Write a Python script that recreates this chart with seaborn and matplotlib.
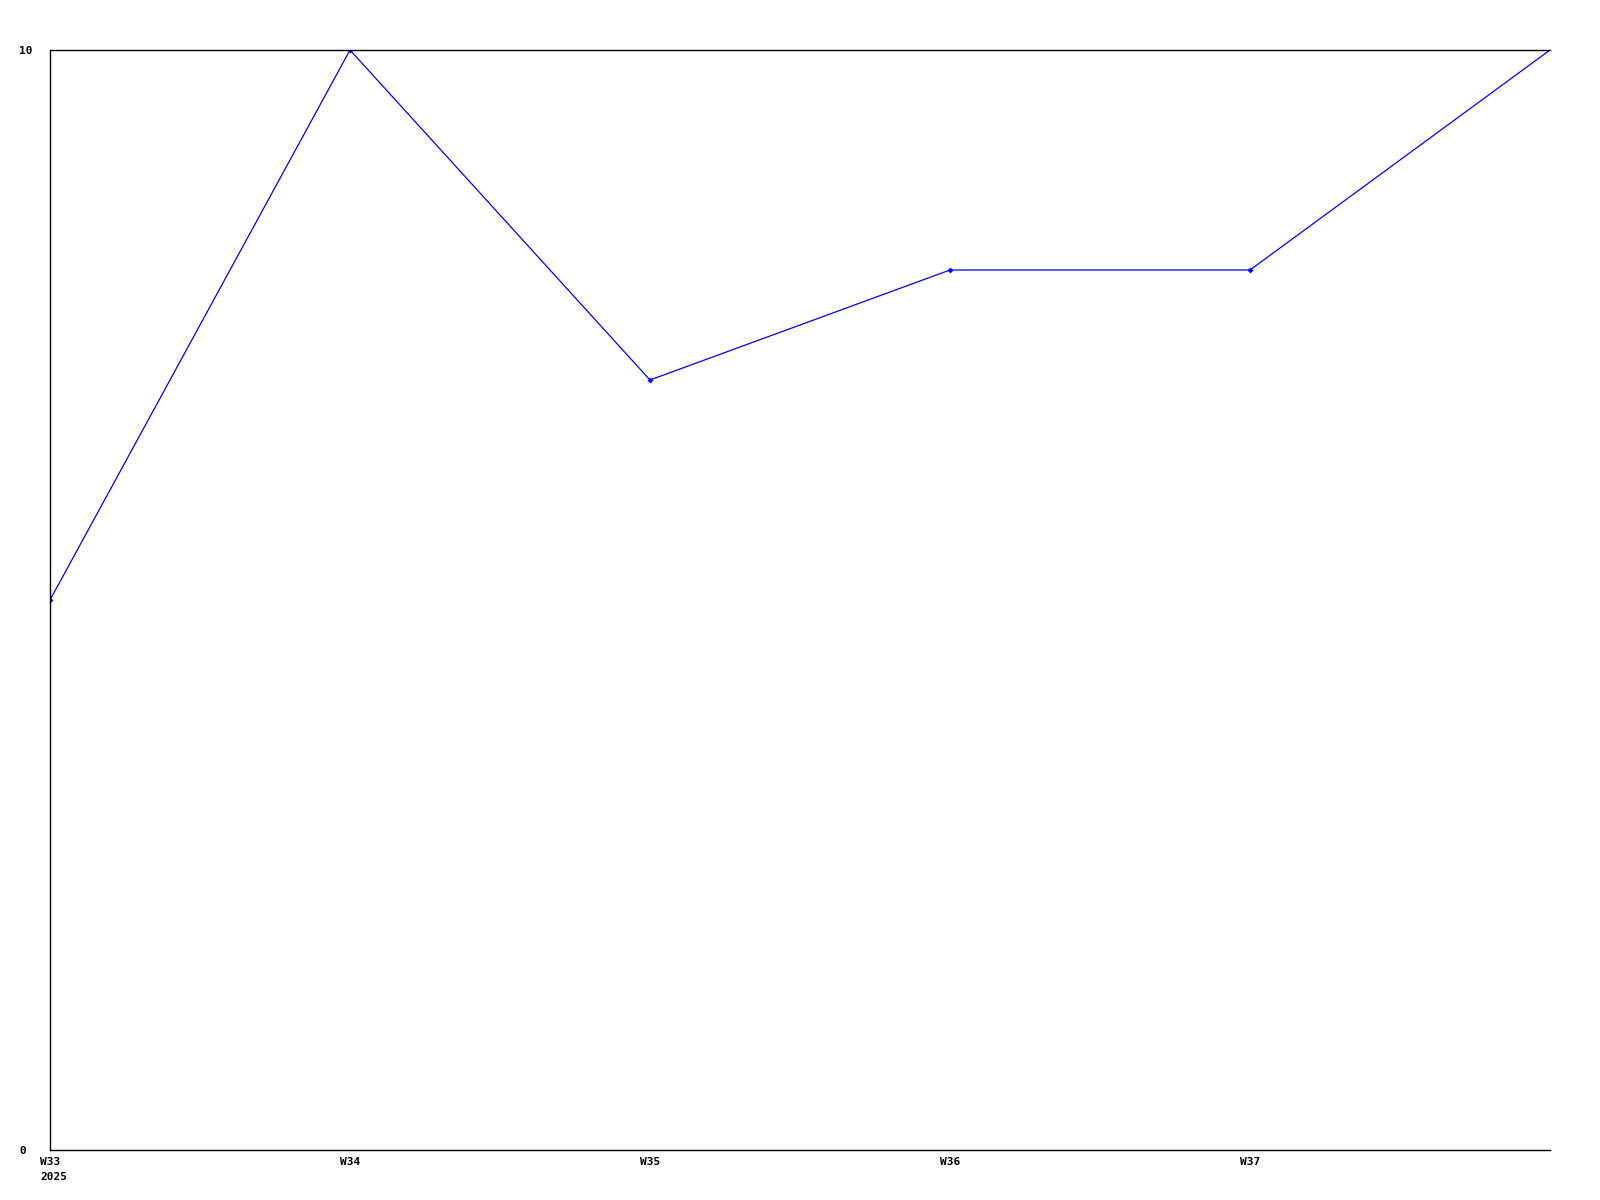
import matplotlib
matplotlib.use("Agg")
import matplotlib.pyplot as plt
import seaborn as sns
import pandas as pd
import matplotlib.transforms as mtransforms

weeks = [33, 34, 35, 36, 37, 38]
values = [5, 10, 7, 8, 8, 10]
tick_weeks = [33, 34, 35, 36, 37]
tick_labels = ["W33", "W34", "W35", "W36", "W37"]
year_label = "2025"

sns.set_style("white")
plt.rcParams['font.family'] = ['DejaVu Sans Mono']
plt.rcParams['text.color'] = 'black'
plt.rcParams['xtick.color'] = 'black'
plt.rcParams['ytick.color'] = 'black'

df = pd.DataFrame({"week": weeks, "value": values})

fig = plt.figure(figsize=(16, 12), dpi=100)
ax = fig.add_axes([50/1600, 50/1200, 1500/1600, 1100/1200])

sns.lineplot(data=df, x="week", y="value", ax=ax, color="#0000ff", linewidth=0.9,
             marker="D", markersize=3, markeredgewidth=0, markevery=[0, 1, 2, 3, 4])

ax.set_xlim(33, 38)
ax.set_ylim(0, 10)
ax.set_xticks(tick_weeks)
ax.set_xticklabels(tick_labels, fontsize=8, fontweight="bold")
ax.set_yticks([0, 10])
ax.set_yticklabels(["0", "10"], fontsize=8, fontweight="bold")
ax.tick_params(axis="x", length=0, pad=5)
ax.tick_params(axis="y", length=0, pad=22)
for lab in ax.get_yticklabels():
    lab.set_horizontalalignment("left")
ax.set_xlabel("")
ax.set_ylabel("")

for s in ["left", "top", "bottom"]:
    ax.spines[s].set_visible(True)
    ax.spines[s].set_color("black")
    ax.spines[s].set_linewidth(1)
ax.spines["right"].set_visible(False)

trans = mtransforms.blended_transform_factory(ax.transData, ax.transAxes)
offset = mtransforms.ScaledTranslation(-10/100, -22/100, fig.dpi_scale_trans)
ax.text(33, 0, year_label, transform=trans + offset, ha="left", va="top",
        fontsize=8, fontweight="bold")

fig.savefig("out.png", dpi=100, facecolor="white")
